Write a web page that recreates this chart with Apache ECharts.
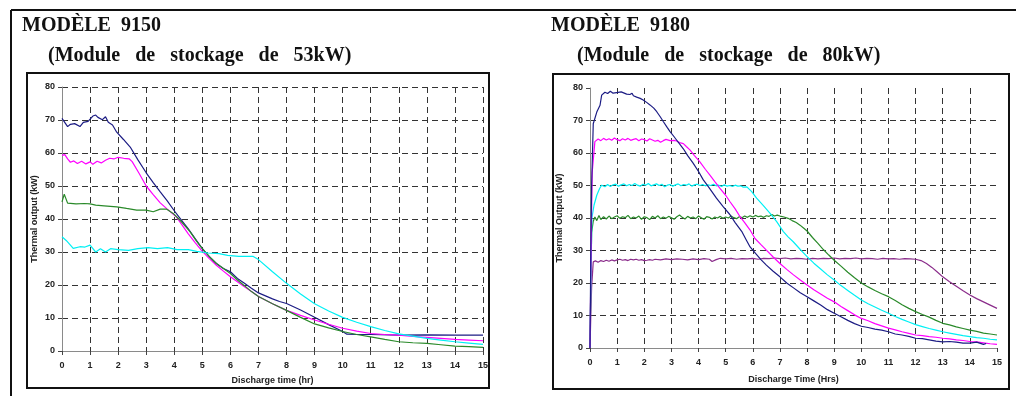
<!DOCTYPE html>
<html>
<head>
<meta charset="utf-8">
<script src="https://cdn.jsdelivr.net/npm/echarts@6/dist/echarts.min.js"></script>
<style>
  html, body { margin: 0; padding: 0; background: #fff; }
  #chart { width: 1016px; height: 396px; }
</style>
</head>
<body>
<div id="chart"></div>
<script>
// ---- Model 9150 (53 kW module): discharge curves [hours, kW] ----
const leftNavy = [[0,70.5],[0.07,70.2],[0.2,68],[0.3,68.7],[0.45,68.9],[0.64,68],[0.76,69.3],[0.93,69.6],[1.1,71.2],[1.2,71.5],[1.28,70.8],[1.44,70.1],[1.55,71],[1.65,69.3],[1.8,68.5],[1.95,66.3],[2.19,64.1],[2.43,61.8],[2.7,58],[3.0,54],[3.25,51],[3.5,48.2],[3.75,45.5],[4.0,42.5],[4.2,40.3],[4.5,37],[4.75,34],[5.0,31],[5.25,28.6],[5.5,26.5],[5.75,25],[6.0,24],[6.25,22],[6.5,20.5],[6.75,19],[7.0,17.6],[7.25,16.7],[7.5,15.8],[7.75,15],[8.0,14.4],[8.5,12.4],[9.0,10.2],[9.5,8.0],[10.0,5.9],[10.15,5.1],[10.5,5.0],[11,5.0],[12,4.8],[13,4.9],[14,4.8],[15,4.8]];
const leftMagenta = [[0,59.3],[0.1,59.5],[0.2,58.2],[0.3,57.2],[0.42,57.6],[0.55,56.8],[0.7,57.5],[0.85,56.7],[1.0,57.3],[1.1,56.6],[1.25,57.5],[1.4,57],[1.55,57.8],[1.7,58.4],[1.85,58.2],[2.0,58.7],[2.2,58.4],[2.4,58.2],[2.5,57.4],[2.75,53.8],[3.0,50],[3.25,47.4],[3.5,44.9],[3.75,43],[4.07,40.7],[4.25,38.5],[4.5,35.5],[4.75,32.8],[5.0,30.2],[5.25,28],[5.5,26],[5.75,24.2],[6.0,22.5],[6.25,21],[6.5,19.5],[6.75,18],[7.0,16.5],[7.5,14.3],[8.0,12.3],[8.5,10.8],[9.0,9.4],[9.5,8.1],[10.0,6.9],[10.5,6],[11,5.3],[11.5,5],[12,4.8],[12.5,4.4],[13,4.1],[13.5,3.8],[14,3.5],[14.5,3.3],[15,3.1]];
const leftGreen = [[0,45.2],[0.08,47.5],[0.2,44.8],[0.5,44.6],[0.8,44.7],[1.0,44.6],[1.05,45.2],[1.2,44.2],[1.5,44],[1.95,43.7],[2.3,43.2],[2.66,42.7],[3.0,42.7],[3.25,42.2],[3.5,43],[3.72,43],[3.96,41.7],[4.2,39.7],[4.56,36.2],[4.8,33.2],[5.0,31],[5.25,28.6],[5.5,26.5],[5.75,25],[6.0,23.5],[6.25,21.5],[6.5,19.8],[6.75,18],[7.0,16.5],[7.5,14.3],[8.0,12.3],[8.5,10.2],[9.0,8.2],[9.5,7],[10.0,5.9],[10.5,5],[11,4.3],[11.5,3.5],[12,2.8],[12.5,2.5],[13,2.3],[13.5,1.9],[14,1.5],[14.5,1.3],[15,1.1]];
const leftCyan = [[0,34.6],[0.15,33.5],[0.3,32.1],[0.4,31.1],[0.64,31.6],[0.82,31.5],[1.0,32.1],[1.2,30],[1.37,31],[1.55,30],[1.73,31],[2.0,30.7],[2.37,30.5],[2.7,31],[3.07,31.3],[3.4,31],[3.76,31.3],[4.1,30.7],[4.5,30.7],[4.8,30.2],[5.2,29.7],[5.6,29.5],[5.9,29],[6.3,28.7],[6.8,28.7],[7.0,27.7],[7.5,24],[8.0,20.5],[8.5,17.3],[9.0,14.3],[9.5,12.1],[10.0,10.2],[10.5,8.7],[11,7.4],[11.5,6.2],[12,5.2],[12.5,4.5],[13,3.8],[13.5,3.3],[14,2.8],[14.5,2.4],[15,2.0]];

// ---- Model 9180 (80 kW module): discharge curves [hours, kW] ----
const rightNavy = [[0,0],[0.03,30],[0.06,50],[0.12,69],[0.25,72.6],[0.37,74.7],[0.43,77.8],[0.55,78.7],[0.65,78.3],[0.75,79],[0.85,78.4],[0.98,78.6],[1.05,78.2],[1.15,78.8],[1.22,78.3],[1.35,78.1],[1.47,78],[1.55,78.4],[1.6,77.6],[1.72,77.2],[1.85,76.8],[1.96,76.3],[2.1,75.5],[2.21,74.8],[2.35,73.8],[2.46,72.7],[2.6,71],[2.7,69.7],[2.85,67.8],[2.95,66.6],[3.1,65],[3.19,64],[3.3,62.8],[3.44,61.3],[3.6,59.2],[3.8,56.9],[4.0,54.3],[4.17,51.8],[4.4,49.2],[4.66,46.1],[4.9,43.6],[5.16,41],[5.35,38.6],[5.59,35.9],[5.75,33.4],[5.9,31.1],[6.1,29.1],[6.3,27.2],[6.5,25.5],[6.75,23.6],[7.0,21.9],[7.25,20],[7.5,18.5],[7.75,17],[8.0,15.8],[8.25,14.5],[8.5,13.2],[8.75,11.8],[9.0,10.7],[9.25,9.6],[9.5,8.5],[9.75,7.5],[10.0,6.7],[10.25,6.3],[10.5,5.8],[10.75,5.5],[11.0,5.0],[11.25,4.3],[11.5,4.0],[11.75,3.6],[12.0,3.0],[12.25,2.9],[12.5,2.5],[12.75,2.1],[13.0,1.9],[13.25,2.0],[13.5,1.8],[13.75,1.5],[14.0,1.5],[14.25,1.8],[14.5,1.1],[14.6,1.4]];
const rightMagenta = [[0,0],[0.04,30],[0.08,54],[0.18,63.5],[0.3,64.3],[0.4,63.8],[0.5,64.5],[0.6,64],[0.7,64.4],[0.8,63.9],[0.9,64.6],[1.0,64.1],[1.1,63.8],[1.2,64.4],[1.3,64],[1.4,64.5],[1.5,63.9],[1.6,64.2],[1.7,64.4],[1.8,63.8],[1.9,64.3],[2.0,64.1],[2.1,63.7],[2.2,64.4],[2.3,64],[2.4,63.6],[2.5,63.9],[2.6,63.3],[2.7,63.8],[2.8,64.2],[2.95,63.8],[3.1,63.9],[3.19,63.7],[3.3,63.2],[3.44,62.9],[3.55,62],[3.69,60.9],[3.85,59.2],[4.05,57.3],[4.25,55],[4.42,53.2],[4.6,51.2],[4.79,49.1],[5.0,47],[5.16,45],[5.35,42.8],[5.53,40.4],[5.7,38.6],[5.9,36.3],[6.08,33.7],[6.3,31.8],[6.5,30.1],[6.75,28],[7.0,26],[7.25,24.2],[7.5,22.5],[7.75,20.9],[8.0,19.4],[8.25,17.9],[8.5,16.6],[8.75,15.3],[9.0,14.2],[9.25,12.8],[9.5,11.5],[9.75,10.2],[10.0,9.1],[10.25,8.4],[10.5,7.5],[10.75,6.8],[11.0,6.1],[11.25,5.6],[11.5,5.0],[11.75,4.5],[12.0,4.0],[12.25,3.8],[12.5,3.5],[12.75,3.3],[13.0,3.0],[13.25,2.8],[13.5,2.5],[13.75,2.3],[14.0,2.0],[14.25,1.9],[14.5,1.6],[14.75,1.3],[15.0,1.1]];
const rightCyan = [[0,0],[0.04,25],[0.07,40],[0.15,44],[0.25,47],[0.35,49],[0.43,50.1],[0.55,49.6],[0.65,50.3],[0.75,49.7],[0.85,50.2],[0.95,50.4],[1.05,49.8],[1.15,50.2],[1.25,50.5],[1.35,49.9],[1.45,50.3],[1.55,50],[1.65,50.6],[1.75,50.1],[1.85,49.8],[1.95,50.4],[2.05,50.1],[2.15,50.6],[2.25,49.9],[2.35,50.2],[2.45,50.5],[2.55,50],[2.65,50.4],[2.75,49.6],[2.85,50.1],[2.95,50.3],[3.05,49.8],[3.15,50.2],[3.25,50.5],[3.35,49.9],[3.45,50.3],[3.55,50.1],[3.65,50.5],[3.75,49.8],[3.85,50.2],[3.95,50.4],[4.05,50],[4.15,50.3],[4.25,49.9],[4.35,50.2],[4.45,50],[4.55,50.4],[4.65,49.9],[4.75,50.1],[4.85,49.7],[4.95,50.2],[5.05,49.8],[5.15,50],[5.25,49.7],[5.35,50.1],[5.45,49.8],[5.55,49.9],[5.65,49.5],[5.78,49.6],[5.96,48.1],[6.14,46.1],[6.39,43.8],[6.63,41.5],[6.88,38.9],[7.12,35.9],[7.3,34.2],[7.49,32.7],[7.75,30.3],[8.0,28.1],[8.25,26.1],[8.5,24.3],[8.75,22.5],[9.0,20.9],[9.25,19.2],[9.5,17.7],[9.75,16.2],[10.0,14.8],[10.25,13.6],[10.5,12.6],[10.75,11.6],[11.0,10.7],[11.25,9.7],[11.5,8.8],[11.75,8],[12.0,7.2],[12.25,6.6],[12.5,6.0],[12.75,5.5],[13.0,5.0],[13.25,4.6],[13.5,4.2],[13.75,3.8],[14.0,3.5],[14.25,3.2],[14.5,3.0],[14.75,2.7],[15.0,2.5]];
const rightGreen = [[0,0],[0.03,20],[0.06,35.5],[0.12,39],[0.18,40.3],[0.25,39.2],[0.33,40.8],[0.4,39.5],[0.5,40.4],[0.6,39.7],[0.7,40.6],[0.8,39.8],[0.9,40.3],[1.0,40.7],[1.1,39.9],[1.2,40.4],[1.3,40.1],[1.4,40.8],[1.5,39.8],[1.6,40.3],[1.7,40],[1.8,40.6],[1.9,39.6],[2.0,40.4],[2.1,40.1],[2.2,39.5],[2.3,40.5],[2.4,40],[2.5,40.7],[2.6,39.8],[2.7,40.3],[2.8,39.9],[2.9,40.5],[3.0,40.1],[3.1,39.6],[3.2,40.4],[3.3,40.9],[3.4,40.2],[3.5,39.7],[3.6,40.5],[3.7,40],[3.8,40.3],[3.9,39.8],[4.0,40.6],[4.1,40.1],[4.2,39.6],[4.3,40.4],[4.4,40.2],[4.5,39.7],[4.6,40.3],[4.7,40],[4.8,40.5],[4.9,39.9],[5.0,40.3],[5.1,40],[5.2,40.6],[5.3,40.1],[5.4,39.8],[5.5,40.4],[5.6,40.1],[5.7,40.6],[5.8,40.2],[5.9,40.7],[6.0,40.3],[6.1,40.8],[6.2,40.4],[6.3,40.6],[6.4,40.2],[6.5,40.7],[6.6,40.5],[6.7,41.1],[6.8,40.6],[6.9,40.9],[7.0,40.6],[7.15,40.3],[7.3,39.9],[7.45,39.2],[7.6,38.6],[7.74,37.8],[7.87,36.9],[8.0,36],[8.2,34],[8.4,32.2],[8.6,30.3],[8.8,28.6],[9.0,27],[9.25,25.2],[9.5,23.3],[9.75,21.6],[10.0,20],[10.25,18.8],[10.5,17.7],[10.75,16.7],[11.0,15.8],[11.25,14.6],[11.5,13.3],[11.75,12.2],[12.0,11.2],[12.25,10.3],[12.5,9.5],[12.75,8.5],[13.0,7.6],[13.25,7.1],[13.5,6.5],[13.75,6],[14.0,5.5],[14.25,5.1],[14.5,4.6],[14.75,4.3],[15.0,4.0]];
const rightPurple = [[0,0],[0.03,10],[0.06,18.8],[0.12,26.5],[0.2,26.8],[0.3,26.4],[0.4,26.9],[0.5,26.6],[0.6,27],[0.7,26.7],[0.8,27.1],[0.9,26.8],[1.0,27.1],[1.1,27.3],[1.2,27],[1.3,27.2],[1.4,26.9],[1.5,27.3],[1.6,27.1],[1.7,27.3],[1.8,27],[1.9,27.2],[2.0,26.9],[2.05,26.3],[2.1,27],[2.2,27.2],[2.3,27],[2.4,27.3],[2.6,27.1],[2.8,27.4],[3.0,27.2],[3.2,27.4],[3.4,27.3],[3.6,27.1],[3.8,27.4],[4.0,27.2],[4.2,27.5],[4.4,27.3],[4.5,26.6],[4.55,26.3],[4.65,27.2],[4.8,27.6],[5.0,27.4],[5.2,27.6],[5.4,27.3],[5.6,27.5],[5.8,27.4],[6.0,27.6],[6.2,27.3],[6.4,27.6],[6.6,27.5],[6.8,27.7],[7.0,27.5],[7.2,27.7],[7.4,27.4],[7.6,27.6],[7.8,27.5],[8.0,27.3],[8.2,27.6],[8.4,27.4],[8.6,27.6],[8.8,27.5],[9.0,27.7],[9.2,27.4],[9.4,27.6],[9.6,27.5],[9.8,27.7],[10.0,27.4],[10.2,27.6],[10.4,27.5],[10.6,27.3],[10.8,27.6],[11.0,27.4],[11.2,27.5],[11.4,27.3],[11.6,27.5],[11.8,27.4],[12.0,27.3],[12.2,26.9],[12.4,26.0],[12.6,24.8],[12.8,23.4],[13.0,21.9],[13.25,20.4],[13.5,19.0],[13.75,17.6],[14.0,16.3],[14.25,15.2],[14.5,14.2],[14.75,13.2],[15.0,12.2]];

// ---- Text ----
const titleLeft = 'MODÈLE  9150';
const subLeft = '(Module   de   stockage   de   53kW)';
const titleRight = 'MODÈLE  9180';
const subRight = '(Module   de   stockage   de   80kW)';
const yNameLeft = 'Thermal output (kW)';
const xNameLeft = 'Discharge time (hr)';
const yNameRight = 'Thermal Output (kW)';
const xNameRight = 'Discharge Time (Hrs)';

const NAVY = '#1c1c84', MAGENTA = '#ff00ff', CYAN = '#00f0f4', GREEN = '#2a8a2a', PURPLE = '#8b2d8b';

const chart = echarts.init(document.getElementById('chart'), null, { renderer: 'canvas' });

const sans = "'Liberation Sans', Arial, sans-serif";
const serif = "'Liberation Serif', 'Times New Roman', serif";

function xAxisFor(gridIndex, name, gap, showMax) {
  return {
    type: 'value', gridIndex, min: 0, max: 15, interval: 1,
    name, nameLocation: 'middle', nameGap: gap,
    nameTextStyle: { fontFamily: sans, fontWeight: 'bold', fontSize: 9, color: '#222' },
    axisLine: { show: true, lineStyle: { color: '#8a8a8a', width: 1 } },
    axisTick: { show: true, length: 4, lineStyle: { color: '#444' } },
    axisLabel: { fontFamily: sans, fontWeight: 'bold', fontSize: 9, color: '#222', margin: 10 },
    splitLine: { show: true, showMinLine: false, showMaxLine: showMax,
      lineStyle: { type: [6, 4], color: '#333', width: 1 } }
  };
}
function yAxisFor(gridIndex, name, gap, showMax) {
  return {
    type: 'value', gridIndex, min: 0, max: 80, interval: 10,
    name, nameLocation: 'middle', nameGap: gap,
    nameTextStyle: { fontFamily: sans, fontWeight: 'bold', fontSize: 9, color: '#222' },
    axisLine: { show: true, lineStyle: { color: '#8a8a8a', width: 1 } },
    axisTick: { show: true, length: 4, lineStyle: { color: '#444' } },
    axisLabel: { fontFamily: sans, fontWeight: 'bold', fontSize: 9, color: '#222', margin: 7 },
    splitLine: { show: true, showMinLine: false, showMaxLine: showMax,
      lineStyle: { type: [6, 4], color: '#333', width: 1 } }
  };
}
function line(data, color, idx) {
  return {
    type: 'line', data, xAxisIndex: idx, yAxisIndex: idx,
    showSymbol: false, symbol: 'none', smooth: false,
    lineStyle: { color, width: 1.2 }, silent: true
  };
}

chart.setOption({
  animation: false,
  backgroundColor: '#fff',
  grid: [
    { left: 62, top: 87, width: 421, height: 264 },
    { left: 590, top: 88, width: 407, height: 260 }
  ],
  xAxis: [xAxisFor(0, xNameLeft, 25, true), xAxisFor(1, xNameRight, 27, false)],
  yAxis: [yAxisFor(0, yNameLeft, 23, true), yAxisFor(1, yNameRight, 26, false)],
  series: [
    line(leftNavy, NAVY, 0),
    line(leftMagenta, MAGENTA, 0),
    line(leftGreen, GREEN, 0),
    line(leftCyan, CYAN, 0),
    line(rightPurple, PURPLE, 1),
    line(rightGreen, GREEN, 1),
    line(rightCyan, CYAN, 1),
    line(rightMagenta, MAGENTA, 1),
    line(rightNavy, NAVY, 1)
  ],
  graphic: [
    // page frame (top and left rules)
    { type: 'line', shape: { x1: 11, y1: 10, x2: 1016, y2: 10 }, style: { stroke: '#111', lineWidth: 2 } },
    { type: 'line', shape: { x1: 11, y1: 10, x2: 11, y2: 396 }, style: { stroke: '#111', lineWidth: 2 } },
    // chart boxes
    { type: 'rect', shape: { x: 27, y: 73, width: 462, height: 315 }, style: { fill: null, stroke: '#111', lineWidth: 2 } },
    { type: 'rect', shape: { x: 553, y: 74, width: 456, height: 315 }, style: { fill: null, stroke: '#111', lineWidth: 2 } },
    // headings
    { type: 'text', x: 22, y: 26, style: { text: titleLeft, font: "bold 20px " + serif, fill: '#111', textVerticalAlign: 'middle' } },
    { type: 'text', x: 48, y: 56, style: { text: subLeft, font: "bold 20px " + serif, fill: '#111', textVerticalAlign: 'middle' } },
    { type: 'text', x: 551, y: 26, style: { text: titleRight, font: "bold 20px " + serif, fill: '#111', textVerticalAlign: 'middle' } },
    { type: 'text', x: 577, y: 56, style: { text: subRight, font: "bold 20px " + serif, fill: '#111', textVerticalAlign: 'middle' } }
  ]
});
</script>
</body>
</html>
